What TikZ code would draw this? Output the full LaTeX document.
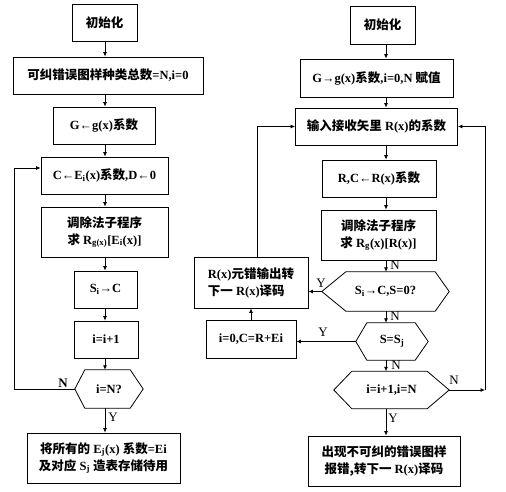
\documentclass[tikz,border=0pt]{standalone}
\usepackage{fontspec}
\setmainfont{Liberation Serif}
\newfontfamily\zh{Noto Sans CJK SC}
\newcommand\hz[1]{{\zh #1}}
\usetikzlibrary{arrows.meta,calc}

\begin{document}
\begin{tikzpicture}[x=1pt,y=-1pt,
    box/.style={draw,line width=0.8pt,inner sep=0pt,align=center,
      font=\fontsize{12.5}{17}\selectfont\bfseries},
    hexa/.style={inner sep=0pt,align=center,
      font=\fontsize{12.5}{17}\selectfont\bfseries},
    arr/.style={-{Latex[length=4.5pt,width=4pt]},line width=0.8pt},
    lab/.style={font=\fontsize{13}{14}\selectfont}]
  \useasboundingbox (0,0) rectangle (506,492);
  \coordinate (axL) at (105,0);
  \coordinate (axR) at (386,0);

  % left column
  \node[box,minimum width=65,minimum height=37] (L1) at (104.5,22.5) {\hz{初始化}};
  \node[box,minimum width=190,minimum height=37] (L2) at (108,75.5) {\hz{可纠错误图样种类总数}=N,i=0};
  \node[box,minimum width=102,minimum height=37] (L3) at (104,125.5) {G←g(x)\hz{系数}};
  \node[box,minimum width=127,minimum height=37] (L4) at (104.5,175.5) {C←E\textsubscript{i}(x)\hz{系数},D←0};
  \node[box,minimum width=127,minimum height=50] (L5) at (104.5,232) {\hz{调除法子程序}\\\hz{求} R\textsubscript{g(x)}[E\textsubscript{i}(x)]};
  \node[box,minimum width=63,minimum height=37] (L6) at (105.5,289.5) {S\textsubscript{i}→C};
  \node[box,minimum width=64,minimum height=37] (L7) at (106,339.5) {i=i+1};
  \node[hexa,minimum width=68,minimum height=38] (L8) at (109,389) {i=N?};
  \draw[line width=0.8pt] (L8.west) -- ([xshift=10pt]L8.north west) -- ([xshift=-13pt]L8.north east)
    -- (L8.east) -- ([xshift=-13pt]L8.south east) -- ([xshift=10pt]L8.south west) -- cycle;
  \node[box,minimum width=153,minimum height=50] (L9) at (103.5,458) {\hz{将所有的} E\textsubscript{j}(x) \hz{系数}=Ei\\\hz{及对应} S\textsubscript{j} \hz{造表存储待用}};

  \draw[arr] (L1.south -| axL) -- (L2.north -| axL);
  \draw[arr] (L2.south -| axL) -- (L3.north -| axL);
  \draw[arr] (L3.south -| axL) -- (L4.north -| axL);
  \draw[arr] (L4.south -| axL) -- (L5.north -| axL);
  \draw[arr] (L5.south -| axL) -- (L6.north -| axL);
  \draw[arr] (L6.south -| axL) -- (L7.north -| axL);
  \draw[arr] (L7.south -| axL) -- (L8.north -| axL);
  \draw[arr] (L8.south -| axL) -- (L9.north -| axL);
  \coordinate (lp) at (14,389);
  \draw[arr] (L8.west) -- (lp) |- ([yshift=7.5pt]L4.west);
  \node[lab,font=\fontsize{13}{14}\selectfont\bfseries] (nL) at (63,383) {N};
  \node[lab] (yL) at (113,417) {Y};

  % right column
  \node[box,minimum width=65,minimum height=38] (R1) at (382.5,25) {\hz{初始化}};
  \node[box,minimum width=153,minimum height=38] (R2) at (376.5,78) {G→g(x)\hz{系数},i=0,N \hz{赋值}};
  \node[box,minimum width=162,minimum height=37] (R3) at (376.5,126.5) {\hz{输入接收矢里} R(x)\hz{的系数}};
  \node[box,minimum width=114,minimum height=37] (R4) at (379,178.5) {R,C←R(x)\hz{系数}};
  \node[box,minimum width=115,minimum height=50] (R5) at (378.5,235) {\hz{调除法子程序}\\\hz{求} R\textsubscript{g}(x)[R(x)]};
  \node[hexa,minimum width=127,minimum height=39] (R6) at (385.5,291.5) {S\textsubscript{i}→C,S=0?};
  \draw[line width=0.8pt] (R6.west) -- ([xshift=24pt]R6.north west) -- ([xshift=-14pt]R6.north east)
    -- (R6.east) -- ([xshift=-14pt]R6.south east) -- ([xshift=24pt]R6.south west) -- cycle;
  \node[hexa,minimum width=72,minimum height=37] (R7) at (392,341.5) {S=S\textsubscript{j}};
  \draw[line width=0.8pt] (R7.west) -- ([xshift=11pt]R7.north west) -- ([xshift=-13pt]R7.north east)
    -- (R7.east) -- ([xshift=-13pt]R7.south east) -- ([xshift=11pt]R7.south west) -- cycle;
  \node[hexa,minimum width=115,minimum height=37] (R8) at (391.5,390) {i=i+1,i=N};
  \draw[line width=0.8pt] (R8.west) -- ([xshift=18pt]R8.north west) -- ([xshift=-22pt]R8.north east)
    -- (R8.east) -- ([xshift=-22pt]R8.south east) -- ([xshift=18pt]R8.south west) -- cycle;
  \node[box,minimum width=152,minimum height=50] (R9) at (384,461) {\hz{出现不可纠的错误图样}\\\hz{报错,转下一} R(x)\hz{译码}};

  % side boxes
  \node[box,minimum width=114,minimum height=51,align=left] (B1) at (251,282.5) {R(x)\hz{元错输出转}\\\hz{下一} R(x)\hz{译码}};
  \node[box,minimum width=90,minimum height=38] (B2) at (251,339) {i=0,C=R+Ei};

  \draw[arr] (R1.south -| axR) -- (R2.north -| axR);
  \draw[arr] (R2.south -| axR) -- (R3.north -| axR);
  \draw[arr] (R3.south -| axR) -- (R4.north -| axR);
  \draw[arr] (R4.south -| axR) -- (R5.north -| axR);
  \draw[arr] (R5.south -| axR) -- (R6.north -| axR);
  \draw[arr] (R6.south -| axR) -- (R7.north -| axR);
  \draw[arr] (R7.south -| axR) -- (R8.north -| axR);
  \draw[arr] (R8.south -| axR) -- (R9.north -| axR);
  \draw[arr] (R6.west) -- (R6.west -| B1.east);
  \draw[arr] (R7.west) -- (R7.west -| B2.east);
  \draw[arr] (B2.north) -- (B1.south);
  \draw[arr] ([xshift=6pt]B1.north) |- (R3.west);
  \coordinate (rr) at (485,390);
  \draw[arr] (R8.east) -- (rr);
  \draw[arr] (rr) |- (R3.east);

  \node[lab] (n1) at (395,265) {N};
  \node[lab] (n2) at (395,316) {N};
  \node[lab] (n3) at (396,365) {N};
  \node[lab] (y1) at (393,418) {Y};
  \node[lab] (n4) at (454,380) {N};
  \node[lab] (y2) at (321,283) {Y};
  \node[lab] (y3) at (323,332) {Y};
\end{tikzpicture}
\end{document}
